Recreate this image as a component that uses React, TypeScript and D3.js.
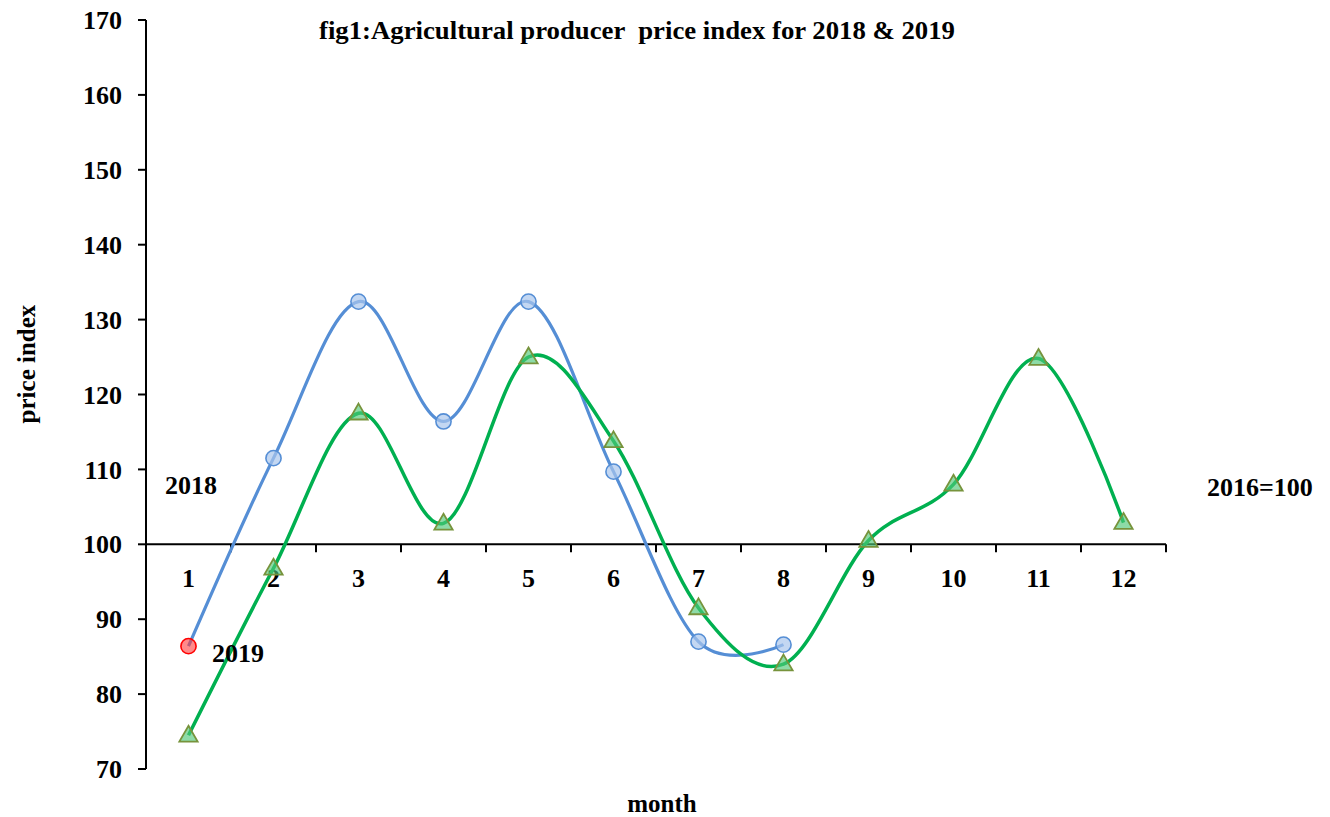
import React from "react";
import * as d3 from "d3";

const months = [1, 2, 3, 4, 5, 6, 7, 8, 9, 10, 11, 12];
const series2019 = [86.4, 111.5, 132.4, 116.4, 132.4, 109.7, 87.0, 86.6];
const series2018 = [74.5, 96.8, 117.5, 102.8, 125.0, 113.8, 91.5, 84.0, 100.5, 108.0, 124.8, 102.9];
const yTicks = [70, 80, 90, 100, 110, 120, 130, 140, 150, 160, 170];

const W = 1330;
const H = 817;
const FONT = "'Liberation Serif', 'Times New Roman', serif";

export default function App() {
  const x = d3.scaleBand<number>().domain(months).range([146, 1166]).padding(0);
  const y = d3.scaleLinear().domain([70, 170]).range([769, 20]);
  const cx = (m: number) => (x(m) as number) + x.bandwidth() / 2;

  const line = d3
    .line<number>()
    .x((_, i) => cx(months[i]))
    .y((d) => y(d))
    .curve(d3.curveCardinal.tension(0));

  const tri = d3.symbol().type(d3.symbolTriangle).size(145)();
  const boundaries = [...months.map((m) => x(m) as number), x.range()[1]];
  const y100 = y(100);

  return (
    <svg width={W} height={H} style={{ position: "absolute", left: 0, top: 0, background: "#fff" }}>
      <rect width={W} height={H} fill="#fff" />
      {/* title */}
      <text
        x={319}
        y={39}
        fontFamily={FONT}
        fontWeight="bold"
        fontSize={25}
        textLength={636}
        lengthAdjust="spacingAndGlyphs"
        style={{ whiteSpace: "pre" }}
      >
        {"fig1:Agricultural producer  price index for 2018 & 2019"}
      </text>

      {/* y axis */}
      <line x1={146} x2={146} y1={y(170)} y2={y(70)} stroke="#000" strokeWidth={2} />
      {yTicks.map((t) => (
        <g key={t}>
          <line x1={138} x2={146} y1={y(t)} y2={y(t)} stroke="#000" strokeWidth={2} />
          <text x={122} y={y(t)} dy="0.35em" textAnchor="end" fontFamily={FONT} fontWeight="bold" fontSize={26}>
            {t}
          </text>
        </g>
      ))}

      {/* x axis at 100 */}
      <line x1={146} x2={x.range()[1]} y1={y100} y2={y100} stroke="#000" strokeWidth={2} />
      {boundaries.map((b, i) => (
        <line key={i} x1={b} x2={b} y1={y100} y2={y100 + 8} stroke="#000" strokeWidth={2} />
      ))}
      {months.map((m) => (
        <text key={m} x={cx(m)} y={587} textAnchor="middle" fontFamily={FONT} fontWeight="bold" fontSize={26}>
          {m}
        </text>
      ))}

      {/* series lines */}
      <path d={line(series2019) || ""} fill="none" stroke="#558ED5" strokeWidth={3.2} />
      <path d={line(series2018) || ""} fill="none" stroke="#00B050" strokeWidth={3.5} />

      {/* markers 2019 */}
      {series2019.map((v, i) => (
        <circle
          key={i}
          cx={cx(months[i])}
          cy={y(v)}
          r={7.6}
          fill={i === 0 ? "rgba(255,60,60,0.6)" : "rgba(170,198,236,0.7)"}
          stroke={i === 0 ? "#FF0000" : "#558ED5"}
          strokeWidth={1.6}
        />
      ))}
      {/* markers 2018 */}
      {series2018.map((v, i) => (
        <path
          key={i}
          d={tri || ""}
          transform={`translate(${cx(months[i])},${y(v) + 1})`}
          fill="rgba(80,200,120,0.65)"
          stroke="#77933C"
          strokeWidth={1.8}
        />
      ))}

      {/* annotations */}
      <text x={165} y={494} fontFamily={FONT} fontWeight="bold" fontSize={26}>2018</text>
      <text x={212} y={662} fontFamily={FONT} fontWeight="bold" fontSize={26}>2019</text>
      <text x={1207} y={496} fontFamily={FONT} fontWeight="bold" fontSize={26}>2016=100</text>

      {/* axis titles */}
      <text x={662} y={812} textAnchor="middle" fontFamily={FONT} fontWeight="bold" fontSize={25}>month</text>
      <text
        transform={`translate(35,364) rotate(-90)`}
        textAnchor="middle"
        fontFamily={FONT}
        fontWeight="bold"
        fontSize={25}
      >
        price index
      </text>
    </svg>
  );
}
